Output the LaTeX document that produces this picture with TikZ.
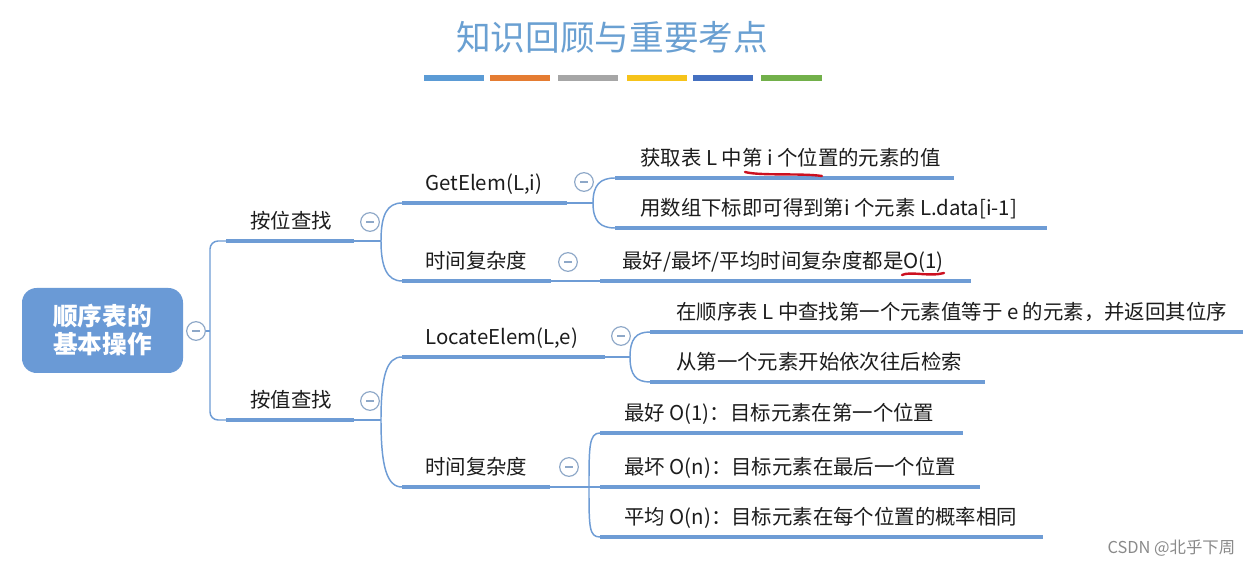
\documentclass[tikz,border=0pt]{standalone}
\usepackage{fontspec}
\setmainfont{Noto Sans CJK SC}
\definecolor{lineblue}{HTML}{6E9CD5}
\definecolor{rootblue}{HTML}{6A9AD6}
\definecolor{titleblue}{HTML}{6AA0D2}
\definecolor{foldgray}{HTML}{8EA8C8}
\definecolor{txtc}{HTML}{1C1C1C}
\definecolor{redmark}{HTML}{CC1020}
\definecolor{wmgray}{HTML}{8A8A8A}
\definecolor{barA}{HTML}{5B9BD5}
\definecolor{barB}{HTML}{E57C32}
\definecolor{barC}{HTML}{A6A6A6}
\definecolor{barD}{HTML}{F6C31A}
\definecolor{barE}{HTML}{4470C0}
\definecolor{barF}{HTML}{72B04A}
\tikzset{
  uline/.style={draw=lineblue, line width=3.3pt},
  conn/.style={draw=lineblue, line width=1.1pt},
  lbl/.style={anchor=base west, inner sep=0pt, text=txtc, font=\fontsize{15.3}{18}\selectfont},
  fold/.style={circle, draw=foldgray, line width=0.9pt, fill=white, minimum size=14pt, inner sep=0pt},
  colorbar/.style={line width=4.5pt},
  redline/.style={draw=redmark, line width=1.8pt, line cap=round},
}
\newcommand\mkfold[2]{%
  \node[fold] (#1) at (#2) {};
  \draw[foldgray, line width=0.9pt] ([xshift=-3pt]#1.center) -- ([xshift=3pt]#1.center);
}
\begin{document}
\begin{tikzpicture}[x=0.75pt, y=-0.75pt]
\fill[white] (0,0) rectangle (1254,566);
\useasboundingbox (0,0) rectangle (1254,566);

% title and colour bars
\node[text=titleblue, font=\fontsize{26}{30}\selectfont] (title) at (612,37) {知识回顾与重要考点};
\draw[colorbar, barA] (424,78) -- (484,78);
\draw[colorbar, barB] (490,78) -- (550,78);
\draw[colorbar, barC] (558,78) -- (618,78);
\draw[colorbar, barD] (627,78) -- (687,78);
\draw[colorbar, barE] (693,78) -- (753,78);
\draw[colorbar, barF] (761,78) -- (822,78);

% root
\node[fill=rootblue, rounded corners=11pt, minimum width=120.75pt, minimum height=63.75pt,
      text=white, align=center, font=\fontsize{18.5}{21}\selectfont\bfseries] (root) at (102.5,330.5) {顺序表的\\基本操作};
\mkfold{froot}{196,331}
\coordinate (trunk) at (210,331);

% level 2 coordinates
\coordinate (AS) at (226,241); \coordinate (AE) at (354,241); \coordinate (AJ) at (381,241);
\coordinate (BS) at (226,420); \coordinate (BE) at (354,420); \coordinate (BJ) at (381,420);
% level 3
\coordinate (GS) at (402,203); \coordinate (GE) at (567,203); \coordinate (GJ) at (593,203);
\coordinate (TS) at (402,281); \coordinate (TE) at (551,281);
\coordinate (LS) at (402,357); \coordinate (LE) at (605,357); \coordinate (LJ) at (630,357);
\coordinate (US) at (402,487); \coordinate (UE) at (550,487); \coordinate (UJ) at (589,487);
% level 4
\coordinate (G1S) at (615,178); \coordinate (G1E) at (954,178);
\coordinate (G2S) at (615,228); \coordinate (G2E) at (1047,228);
\coordinate (T1S) at (600,281); \coordinate (T1E) at (971,281);
\coordinate (L1S) at (650,332); \coordinate (L1E) at (1243,332);
\coordinate (L2S) at (650,382); \coordinate (L2E) at (985,382);
\coordinate (U1S) at (600,433); \coordinate (U1E) at (963,433);
\coordinate (U2S) at (600,487); \coordinate (U2E) at (980,487);
\coordinate (U3S) at (600,537); \coordinate (U3E) at (1043,537);

% trunk from root
\draw[conn] (froot) -- (trunk);
\draw[conn, rounded corners=6pt] (AS) -| (trunk) |- (BS);

% underlines
\foreach \a in {A,B,G,T,L,U}{\draw[uline] (\a S) -- (\a E);}
\foreach \a in {G1,G2,T1,L1,L2,U1,U2,U3}{\draw[uline] (\a S) -- (\a E);}

% thin connectors and branch curves
\draw[conn] (AE) -- (AJ);
\draw[conn] (AJ) .. controls +(0,-26) and +(-15,0) .. (GS);
\draw[conn] (AJ) .. controls +(0,26) and +(-15,0) .. (TS);
\draw[conn] (BE) -- (BJ);
\draw[conn] (BJ) .. controls +(0,-45) and +(-15,0) .. (LS);
\draw[conn] (BJ) .. controls +(0,47) and +(-15,0) .. (US);
\draw[conn] (GE) -- (GJ);
\draw[conn] (GJ) .. controls +(0,-18) and +(-15,0) .. (G1S);
\draw[conn] (GJ) .. controls +(0,18) and +(-15,0) .. (G2S);
\draw[conn] (TE) -- (T1S);
\draw[conn] (LE) -- (LJ);
\draw[conn] (LJ) .. controls +(0,-18) and +(-14,0) .. (L1S);
\draw[conn] (LJ) .. controls +(0,18) and +(-14,0) .. (L2S);
\draw[conn] (UE) -- (U2S);
\draw[conn] (UJ) .. controls +(0,-40) and +(-11,0) .. (U1S);
\draw[conn] (UJ) .. controls +(0,40) and +(-11,0) .. (U3S);

% fold markers
\mkfold{fA}{370,222}
\mkfold{fB}{370,401}
\mkfold{fG}{584,182}
\mkfold{fT}{568,262}
\mkfold{fL}{621,336}
\mkfold{fU}{569,467}

% labels
\node[lbl] (tA) at (250,229) {按位查找};
\node[lbl] (tB) at (250,408) {按值查找};
\node[lbl] (tG) at (425,191) {GetElem(L,i)};
\node[lbl] (tT) at (425,269) {时间复杂度};
\node[lbl] (tL) at (425,345) {LocateElem(L,e)};
\node[lbl] (tU) at (425,475) {时间复杂度};
\node[lbl] (tG1) at (640,166) {获取表 L 中第 i 个位置的元素的值};
\node[lbl] (tG2) at (640,216) {用数组下标即可得到第i 个元素 L.data[i-1]};
\node[lbl] (tT1) at (622,269) {最好/最坏/平均时间复杂度都是O(1)};
\node[lbl] (tL1) at (676,320) {在顺序表 L 中查找第一个元素值等于 e 的元素，并返回其位序};
\node[lbl] (tL2) at (676,370) {从第一个元素开始依次往后检索};
\node[lbl] (tU1) at (624,421) {最好 O(1)：目标元素在第一个位置};
\node[lbl] (tU2) at (624,475) {最坏 O(n)：目标元素在最后一个位置};
\node[lbl] (tU3) at (624,525) {平均 O(n)：目标元素在每个位置的概率相同};

% red hand marks
\draw[redline] (745,172) .. controls (760,176) and (800,173) .. (822,176);
\draw[redline] (902,275) .. controls (910,271) and (930,277) .. (944,273);

% watermark
\node[text=wmgray, font=\fontsize{12.3}{14}\selectfont, anchor=east] (wm) at (1240,548) {CSDN @北乎下周};
\end{tikzpicture}
\end{document}
